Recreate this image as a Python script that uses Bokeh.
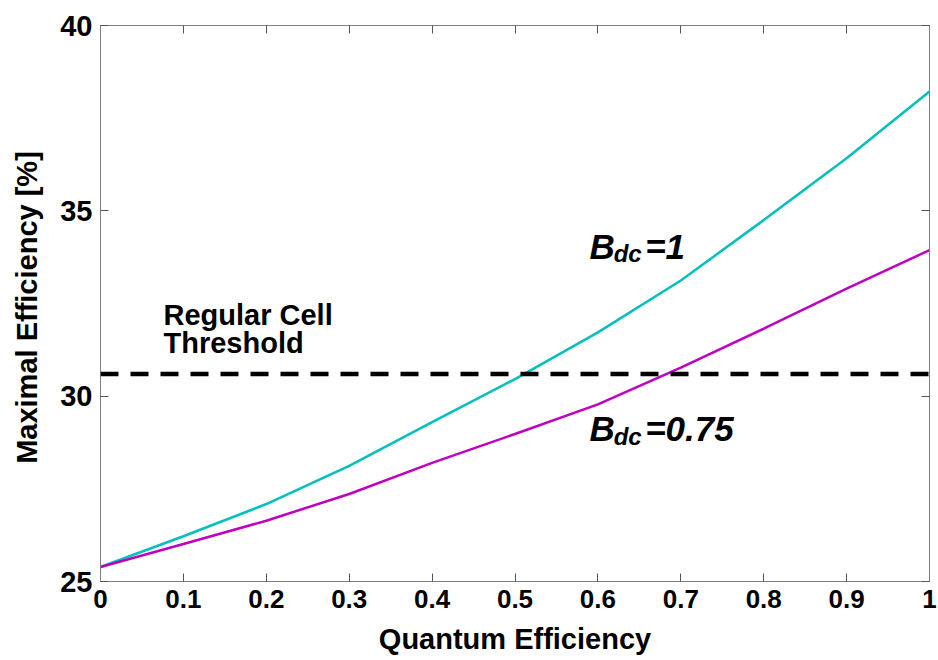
from bokeh.plotting import figure
from bokeh.models import Range1d, LinearAxis, FixedTicker, CustomJSTickFormatter, Label, Span
from bokeh.embed import file_html
from bokeh.resources import INLINE

# ---- data ----
quantum_eff = [0.0, 0.1, 0.2, 0.3, 0.4, 0.5, 0.6, 0.7, 0.8, 0.9, 1.0]
eff_bdc_1 = [25.39, 26.22, 27.09, 28.12, 29.30, 30.46, 31.72, 33.12, 34.75, 36.42, 38.22]
eff_bdc_075 = [25.39, 26.01, 26.64, 27.36, 28.20, 28.98, 29.78, 30.77, 31.82, 32.90, 33.94]
threshold = 30.6
x_ticks = [0.0, 0.1, 0.2, 0.3, 0.4, 0.5, 0.6, 0.7, 0.8, 0.9, 1.0]
y_ticks = [25, 30, 35, 40]

FONT = "Liberation Sans"
AXIS_COL = "#808080"

p = figure(width=938, height=660, output_backend="svg", toolbar_location=None,
           x_range=Range1d(0, 1), y_range=Range1d(25, 40),
           min_border_left=100, min_border_right=9, min_border_top=25, min_border_bottom=79)
p.grid.visible = False
p.outline_line_color = AXIS_COL
p.background_fill_color = "white"
p.border_fill_color = "white"

fmt = CustomJSTickFormatter(code="return tick.toFixed(1).replace(/\\.0$/, '');")
blank = CustomJSTickFormatter(code="return '';")

for ax in (p.xaxis[0], p.yaxis[0]):
    ax.axis_line_color = AXIS_COL
    ax.major_tick_line_color = "#555555"
    ax.major_tick_in = 8
    ax.major_tick_out = 0
    ax.minor_tick_line_color = None
    ax.major_label_text_font = FONT
    ax.major_label_text_font_style = "bold"
    ax.major_label_text_color = "black"
    ax.axis_label_text_font = FONT
    ax.axis_label_text_font_style = "bold"
    ax.axis_label_text_color = "black"
    ax.major_label_standoff = 8

p.xaxis[0].ticker = FixedTicker(ticks=x_ticks)
p.xaxis[0].formatter = fmt
p.xaxis[0].major_label_text_font_size = "26px"
p.xaxis[0].axis_label = "Quantum Efficiency"
p.xaxis[0].axis_label_text_font_size = "29px"
p.xaxis[0].axis_label_standoff = 12

p.yaxis[0].ticker = FixedTicker(ticks=y_ticks)
p.yaxis[0].major_label_text_font_size = "29px"
p.yaxis[0].axis_label = "Maximal Efficiency  [%]"
p.yaxis[0].axis_label_text_font_size = "29px"
p.yaxis[0].axis_label_standoff = 14

# box ticks on top/right
top = LinearAxis(ticker=FixedTicker(ticks=x_ticks), formatter=blank,
                 major_tick_in=8, major_tick_out=0, minor_tick_line_color=None,
                 axis_line_color=AXIS_COL, major_tick_line_color="#555555", major_label_standoff=0)
right = LinearAxis(ticker=FixedTicker(ticks=y_ticks), formatter=blank,
                   major_tick_in=8, major_tick_out=0, minor_tick_line_color=None,
                   axis_line_color=AXIS_COL, major_tick_line_color="#555555", major_label_standoff=0)
p.add_layout(top, "above")
p.add_layout(right, "right")

# curves
p.line(quantum_eff, eff_bdc_1, line_color="#00BFBF", line_width=2.5)
p.line(quantum_eff, eff_bdc_075, line_color="#BF00BF", line_width=2.5)

# threshold
p.add_layout(Span(location=threshold, dimension="width", line_color="black",
                  line_width=4.5, line_dash="18 12"))

def lab(x, y, text, size, style="bold"):
    p.add_layout(Label(x=x, y=y, text=text, text_font=FONT, text_font_size=size,
                       text_font_style=style, text_color="black",
                       text_align="left", text_baseline="alphabetic"))

lab(0.076, 32.20, "Regular Cell", "29px")
lab(0.076, 31.44, "Threshold", "29px")

lab(0.590, 34.03, "B", "35px", "bold italic")
lab(0.619, 33.84, "dc", "24px", "bold italic")
lab(0.657, 34.03, "=1", "35px", "bold italic")

lab(0.590, 29.12, "B", "35px", "bold italic")
lab(0.619, 28.90, "dc", "24px", "bold italic")
lab(0.657, 29.12, "=0.75", "35px", "bold italic")

open("out.html", "w").write(file_html(p, INLINE))
